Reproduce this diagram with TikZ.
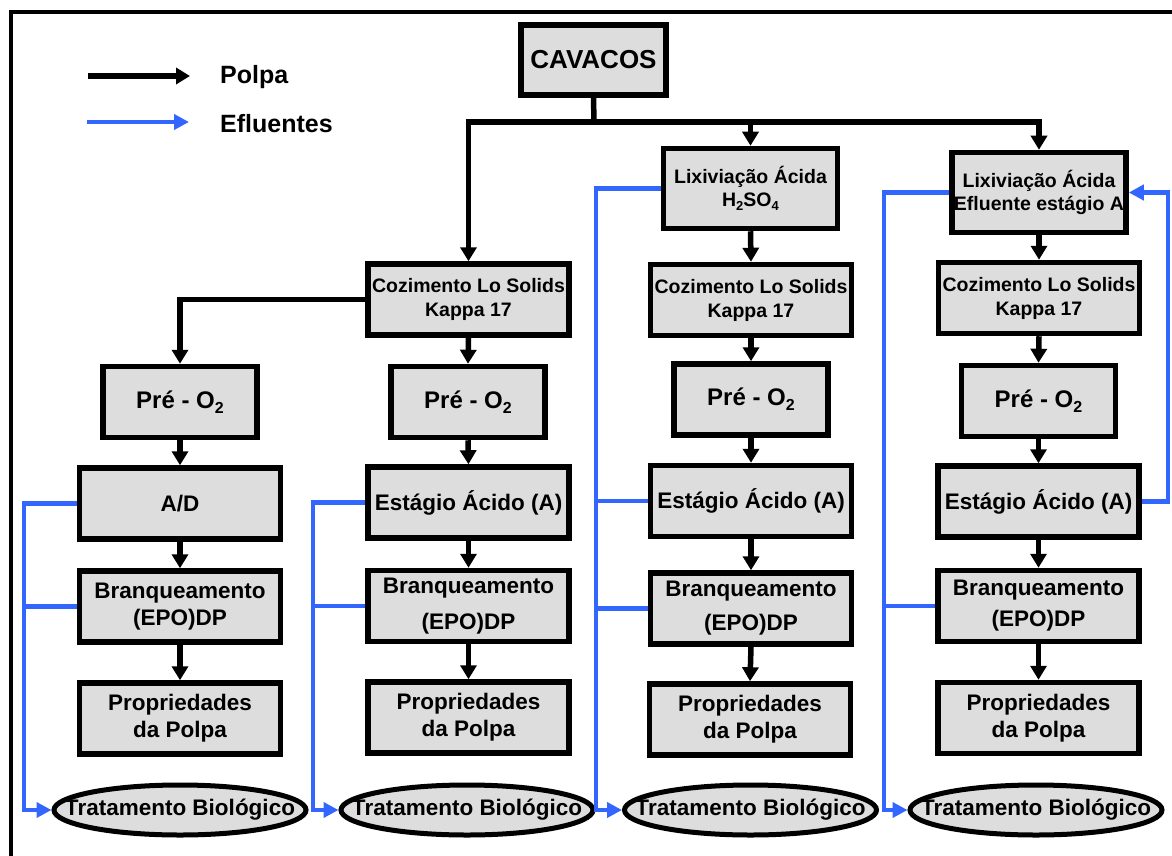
\documentclass[tikz,border=0pt]{standalone}
\usepackage{fontspec}
\setmainfont{Liberation Sans}
\usetikzlibrary{arrows.meta,shapes.geometric}
\definecolor{boxgray}{HTML}{DDDDDD}
\definecolor{effblue}{HTML}{3366FF}
% lowered, smaller digit for chemical formulas
\newcommand{\lowsub}[3]{\raisebox{-#1}{\fontsize{#2}{#2}\selectfont #3}}
\begin{document}
\begin{tikzpicture}[x=1pt,y=-1pt,
  box/.style={draw, line width=5.5pt, fill=boxgray, inner sep=0pt, align=center,
    font=\bfseries\fontsize{22.5}{27}\selectfont},
  wide/.style={box, minimum width=201pt, minimum height=71pt},
  prebox/.style={box, minimum width=154pt, minimum height=71pt,
    font=\bfseries\fontsize{24}{28}\selectfont},
  cook/.style={wide, font=\bfseries\fontsize{19.5}{24}\selectfont},
  leach/.style={box, minimum width=174pt, minimum height=80pt,
    font=\bfseries\fontsize{19.5}{23.5}\selectfont},
  bio/.style={ellipse, draw, line width=5pt, fill=boxgray, inner sep=0pt,
    minimum width=252pt, minimum height=50pt,
    font=\bfseries\fontsize{22.5}{27}\selectfont},
  pulpline/.style={line width=5.5pt},
  pulp/.style={pulpline, -{Triangle[length=14pt,width=16pt]}},
  effline/.style={draw=effblue, line width=4.5pt},
  eff/.style={effline, -{Triangle[length=15pt,width=15pt]}},
  legtext/.style={anchor=west, inner sep=0pt, font=\bfseries\fontsize{25}{30}\selectfont}
]
\useasboundingbox (0,0) rectangle (1172,856);
\fill[white] (0,0) rectangle (1172,856);

% frame
\draw[line width=4pt] (10.5,870) -- (10.5,12) -- (1190,12);

% legend
\coordinate (lpa) at (88,76);  \coordinate (lpb) at (190,76);
\coordinate (lea) at (87,122); \coordinate (leb) at (189,122);
\draw[pulp] (lpa) -- (lpb);
\draw[eff] (lea) -- (leb);
\node[legtext] (lgp) at (220,77) {Polpa};
\node[legtext] (lge) at (220,124) {Efluentes};

% source
\node[box, line width=6pt, minimum width=145pt, minimum height=70pt,
  font=\bfseries\fontsize{26}{30}\selectfont] (cav) at (593.5,60) {CAVACOS};

% column 1
\node[prebox] (pre1) at (180,402) {Pré - O\lowsub{5pt}{16}{2}};
\node[wide]   (ad1)  at (180,503.5) {A/D};
\node[wide]   (br1)  at (180,606.5) {Branqueamento\\(EPO)DP};
\node[wide]   (pr1)  at (180,718.5) {Propriedades\\da Polpa};
\node[bio]    (bio1) at (180,810) {\makebox[0pt][c]{Tratamento Biológico}};

% column 2
\node[cook]   (coz2) at (468.5,299.5) {Cozimento Lo Solids\\Kappa 17};
\node[prebox] (pre2) at (468,402) {Pré - O\lowsub{5pt}{16}{2}};
\node[wide]   (est2) at (468.5,502.5) {Estágio Ácido (A)};
\node[wide]   (br2)  at (468.5,606) {Branqueamento\\[9pt](EPO)DP};
\node[wide]   (pr2)  at (468.5,717.5) {Propriedades\\da Polpa};
\node[bio]    (bio2) at (467,810) {\makebox[0pt][c]{Tratamento Biológico}};

% column 3
\node[leach]  (lix3) at (750.5,188.5) {Lixiviação Ácida\\H\lowsub{4pt}{13}{2}SO\lowsub{4pt}{13}{4}};
\node[cook]   (coz3) at (751,300) {Cozimento Lo Solids\\Kappa 17};
\node[prebox] (pre3) at (751,399.5) {Pré - O\lowsub{5pt}{16}{2}};
\node[wide]   (est3) at (751,501) {Estágio Ácido (A)};
\node[wide]   (br3)  at (751,608.5) {Branqueamento\\[7pt](EPO)DP};
\node[wide]   (pr3)  at (750,719.5) {Propriedades\\da Polpa};
\node[bio]    (bio3) at (750.5,810) {\makebox[0pt][c]{Tratamento Biológico}};

% column 4
\node[leach]  (lix4) at (1039,192.5) {Lixiviação Ácida\\Efluente estágio A};
\node[cook]   (coz4) at (1039,298) {Cozimento Lo Solids\\Kappa 17};
\node[prebox] (pre4) at (1038.5,401) {Pré - O\lowsub{5pt}{16}{2}};
\node[wide]   (est4) at (1038.5,501.5) {Estágio Ácido (A)};
\node[wide]   (br4)  at (1038.5,606) {Branqueamento\\[4pt](EPO)DP};
\node[wide]   (pr4)  at (1038.5,718) {Propriedades\\da Polpa};
\node[bio]    (bio4) at (1036,810) {\makebox[0pt][c]{Tratamento Biológico}};

% pulp flow from the chips
\coordinate (split) at (594,122);
\draw[pulpline] (cav.south) -- (split);
\draw[pulp] (split) -| (coz2.north);
\draw[pulp] (split) -| (lix3.north);
\draw[pulp] (split) -| (lix4.north);
\draw[pulp] (coz2.west) -| (pre1.north);

% pulp flow inside the columns
\draw[pulp] (pre1.south) -- (ad1.north);
\draw[pulp] (ad1.south) -- (br1.north);
\draw[pulp] (br1.south) -- (pr1.north);

\draw[pulp] (coz2.south) -- (pre2.north);
\draw[pulp] (pre2.south) -- (est2.north);
\draw[pulp] (est2.south) -- (br2.north);
\draw[pulp] (br2.south) -- (pr2.north);

\draw[pulp] (lix3.south) -- (coz3.north);
\draw[pulp] (coz3.south) -- (pre3.north);
\draw[pulp] (pre3.south) -- (est3.north);
\draw[pulp] (est3.south) -- (br3.north);
\draw[pulp] (br3.south) -- (pr3.north);

\draw[pulp] (lix4.south) -- (coz4.north);
\draw[pulp] (coz4.south) -- (pre4.north);
\draw[pulp] (pre4.south) -- (est4.north);
\draw[pulp] (est4.south) -- (br4.north);
\draw[pulp] (br4.south) -- (pr4.north);

% effluent collectors
\coordinate (c1) at (24,0);
\coordinate (c2) at (313,0);
\coordinate (c3) at (596,0);
\coordinate (c4) at (884,0);

\draw[eff] (ad1.west) -- (ad1.west -| c1) -- (c1 |- bio1.west) -- (bio1.west);
\draw[effline] (br1.west) -- (br1.west -| c1);

\draw[eff] (est2.west) -- (est2.west -| c2) -- (c2 |- bio2.west) -- (bio2.west);
\draw[effline] (br2.west) -- (br2.west -| c2);

\draw[eff] (lix3.west) -- (lix3.west -| c3) -- (c3 |- bio3.west) -- (bio3.west);
\draw[effline] (est3.west) -- (est3.west -| c3);
\draw[effline] (br3.west) -- (br3.west -| c3);

\draw[eff] (lix4.west) -- (lix4.west -| c4) -- (c4 |- bio4.west) -- (bio4.west);
\draw[effline] (br4.west) -- (br4.west -| c4);

% acid stage effluent recycled to the leaching
\coordinate (c5) at (1168,0);
\draw[eff] (est4.east) -- (est4.east -| c5) -- (c5 |- lix4.east) -- (lix4.east);
\end{tikzpicture}
\end{document}
